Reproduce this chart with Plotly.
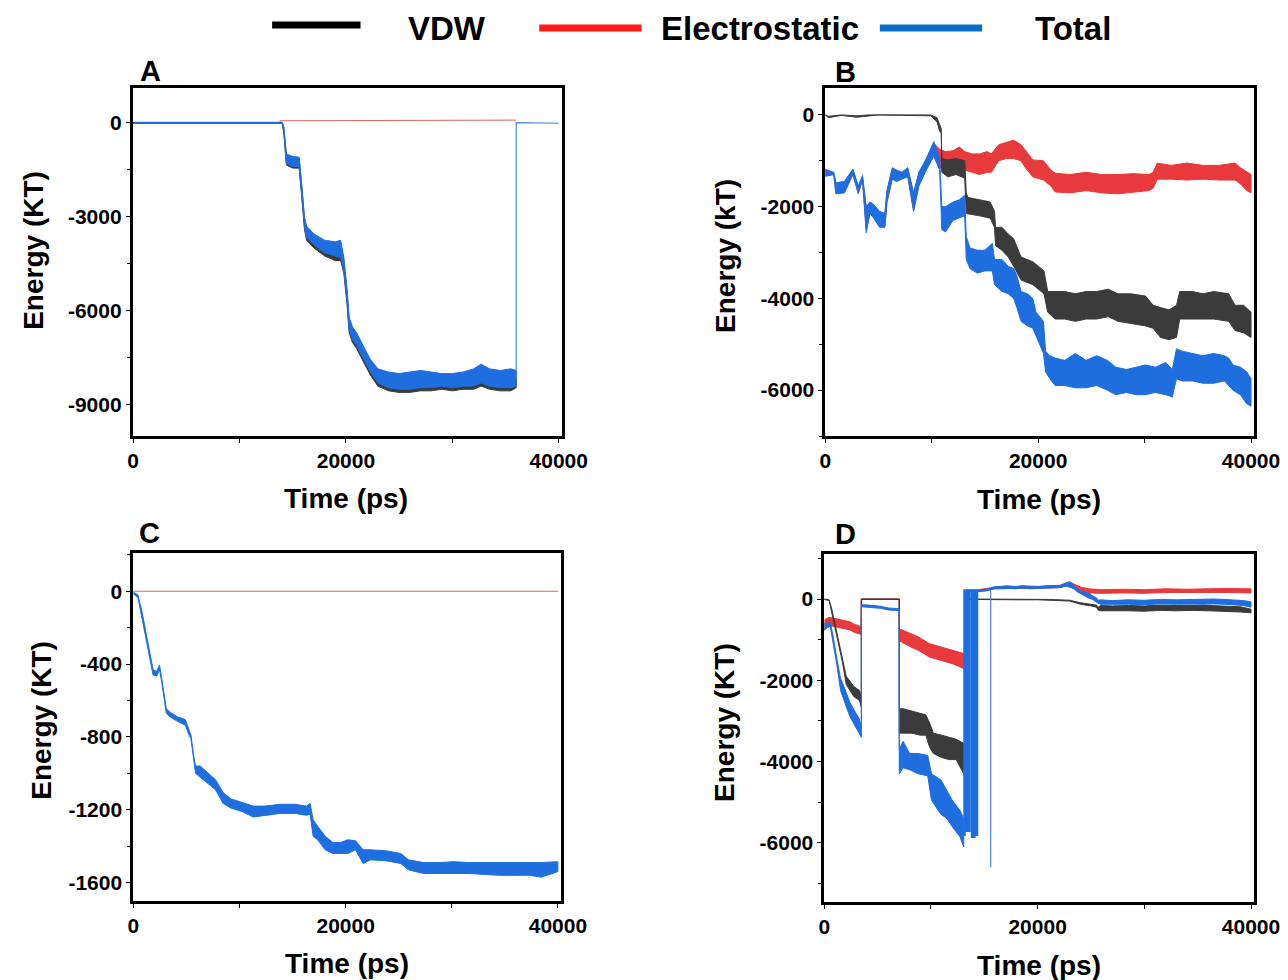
import plotly.graph_objects as go

# ---------------- data ----------------
# Panel A
A_t = [0, 14000, 14150, 14400, 15000, 15600, 15800, 16100, 16300, 17000,
       18000, 19000, 19500, 19800, 20100, 20300, 20600, 21000, 21600, 22300,
       23000, 24000, 25000, 26000, 27000, 28000, 29000, 30000, 31000, 32000,
       32700, 33500, 34500, 35500, 36000]
A_tot_hi = [10, 10, -100, -1000, -1080, -1100, -1800, -3000, -3300, -3550,
            -3750, -3800, -3750, -4300, -5300, -6200, -6500, -6700, -7100, -7550,
            -7850, -7950, -8000, -7950, -7900, -7950, -8000, -8000, -7950, -7850,
            -7700, -7850, -7900, -7850, -7900]
A_tot_lo = [-20, -20, -250, -1300, -1400, -1400, -2100, -3300, -3650, -3900,
            -4150, -4250, -4300, -4700, -5700, -6600, -6900, -7100, -7500, -7950,
            -8300, -8450, -8500, -8500, -8450, -8450, -8400, -8450, -8400, -8400,
            -8300, -8400, -8450, -8450, -8400]
A_vdw_hi = [0, 0, -150, -1050, -1150, -1150, -1850, -3050, -3400, -3650,
            -3850, -3900, -3850, -4400, -5400, -6300, -6600, -6800, -7200, -7650,
            -7950, -8050, -8100, -8050, -8000, -8050, -8100, -8100, -8050, -7950,
            -7800, -7950, -8000, -7950, -8000]
A_vdw_lo = [-20, -20, -300, -1350, -1450, -1450, -2200, -3400, -3750, -4000,
            -4250, -4400, -4400, -4800, -5800, -6700, -7000, -7200, -7600, -8050,
            -8400, -8550, -8600, -8600, -8550, -8550, -8500, -8550, -8500, -8500,
            -8400, -8500, -8550, -8550, -8450]
A_tail_t = [36000, 36000, 40000]
A_tail = [-8150, 0, -20]
A_el_t = [0, 13800, 13800, 20000, 30000, 36000]
A_el = [0, 0, 60, 60, 70, 80]

# Panel B
B_t = [0, 800, 1000, 1800, 2600, 3100, 3500, 3850, 4200, 4550,
       5100, 5600, 5800, 6300, 6700, 7200, 7750, 8300, 8800, 9500,
       10200, 10750, 10950, 11300, 12000, 12600, 13100, 13250, 13600, 14300,
       15000, 15700, 15900, 16600, 17200, 17700, 18000, 18400, 19000, 19500,
       19800, 20500, 20700, 21100, 21600, 22500, 23500, 24500, 25500, 26500,
       27300, 28300, 29200, 30100, 31000, 32000, 32600, 33000, 33500, 34500,
       35500, 36500, 37500, 37900, 38300, 39000, 39600, 40000]
B_tot_hi = [-1200, -1250, -1480, -1450, -1180, -1550, -1320, -2000, -1900, -1950,
            -2100, -2150, -1650, -1150, -1200, -1250, -1150, -1700, -1250, -950,
            -580, -950, -2000, -2000, -1900, -1850, -1750, -2650, -2900, -2950,
            -2950, -2800, -3150, -3150, -3300, -3350, -3500, -3850, -3900, -4000,
            -4300, -4500, -5150, -5250, -5300, -5350, -5200, -5350, -5250, -5350,
            -5500, -5550, -5500, -5450, -5500, -5400, -5550, -5100, -5150, -5200,
            -5250, -5200, -5250, -5300, -5450, -5500, -5600, -5750]
B_tot_lo = [-1340, -1300, -1720, -1700, -1300, -1720, -1420, -2570, -2150, -2250,
            -2450, -2450, -1900, -1400, -1450, -1400, -1350, -2100, -1550, -1200,
            -900, -1200, -2500, -2550, -2300, -2250, -2200, -3150, -3350, -3450,
            -3400, -3400, -3700, -3850, -3900, -4000, -4200, -4500, -4600, -4650,
            -4800, -5200, -5600, -5750, -5900, -5900, -5950, -5950, -5900, -6000,
            -6100, -6050, -6100, -6100, -6050, -6100, -6150, -5750, -5800, -5800,
            -5850, -5850, -5800, -5900, -6000, -6100, -6300, -6350]
B_el_t = [0, 800, 1000, 1800, 2600, 3100, 3500, 3850, 4200, 4550,
          5100, 5600, 5800, 6300, 6700, 7200, 7750, 8300, 8800, 9500,
          10200, 10750, 11300, 12000, 12600, 13100, 13800, 14500, 15200, 15600,
          16300, 17000, 17700, 18400, 18800, 19500, 20500, 21200, 21600, 23000,
          24500, 26000, 27500, 29000, 30400, 30800, 31200, 32500, 34000, 35500,
          37000, 38500, 39000, 39600, 40000]
B_el_hi = [-1180, -1260, -1500, -1470, -1200, -1570, -1340, -2020, -1920, -1970,
           -2120, -2170, -1670, -1170, -1220, -1270, -1170, -1720, -1270, -970,
           -620, -750, -800, -780, -700, -800, -850, -850, -800, -850,
           -650, -600, -550, -650, -780, -980, -1000, -1200, -1270, -1300,
           -1250, -1300, -1300, -1280, -1300, -1250, -1050, -1100, -1050, -1100,
           -1100, -1050, -1150, -1250, -1300]
B_el_lo = [-1320, -1290, -1700, -1680, -1290, -1700, -1400, -2500, -2130, -2230,
           -2430, -2430, -1880, -1380, -1430, -1380, -1330, -2080, -1530, -1180,
           -880, -1150, -1200, -1150, -1100, -1200, -1250, -1300, -1250, -1250,
           -1000, -950, -950, -1000, -1150, -1350, -1420, -1550, -1680, -1700,
           -1650, -1700, -1720, -1680, -1650, -1600, -1400, -1400, -1420, -1400,
           -1420, -1420, -1500, -1650, -1700]
B_vdw_t = [0, 300, 1500, 3000, 4000, 5000, 9900, 10500, 10750, 10900,
           10950, 11500, 12300, 13100, 13250, 13400, 14500, 15500, 15900, 16000,
           16600, 17200, 17700, 18400, 19500, 20550, 20900, 21600, 22500, 23500,
           24500, 25500, 26600, 27500, 28700, 30100, 30800, 31500, 32300, 33000,
           33300, 34500, 35500, 36500, 37900, 38500, 39300, 40000]
B_vdw_hi = [0, -30, 0, -20, 0, 0, 0, -60, -200, -300,
            -950, -980, -950, -1000, -1700, -1800, -1850, -1900, -2100, -2450,
            -2450, -2600, -2700, -3100, -3200, -3400, -3850, -3850, -3850, -3900,
            -3850, -3850, -3800, -3900, -3900, -3950, -4150, -4200, -4250, -4150,
            -3850, -3850, -3900, -3850, -3900, -4150, -4150, -4300]
B_vdw_lo = [0, -60, -10, -50, -20, 0, -20, -150, -350, -400,
            -1250, -1350, -1300, -1380, -2150, -2150, -2200, -2250, -2450, -2850,
            -2950, -3100, -3300, -3600, -3700, -3900, -4300, -4450, -4450, -4500,
            -4450, -4450, -4400, -4500, -4550, -4600, -4650, -4850, -4900, -4850,
            -4450, -4450, -4450, -4450, -4500, -4700, -4750, -4850]

# Panel C
C_t = [0, 430, 800, 1140, 1500, 1850, 2200, 2460, 2670, 2920,
       3100, 3460, 4170, 4880, 5170, 5420, 5670, 5850, 6300, 7000,
       7740, 8450, 9160, 10230, 11300, 12370, 13800, 15220, 16290, 16650,
       16930, 17360, 18070, 18790, 19500, 20200, 20930, 21640, 22350, 23780,
       25200, 25920, 27340, 28770, 30200, 31620, 33050, 34470, 35900, 37330,
       38400, 40000]
C_tot_hi = [-5, -20, -110, -220, -330, -430, -440, -405, -480, -570,
            -645, -665, -690, -705, -745, -790, -900, -960, -960, -995,
            -1035, -1105, -1140, -1160, -1180, -1180, -1170, -1170, -1180, -1165,
            -1255, -1290, -1345, -1380, -1380, -1365, -1370, -1420, -1420, -1425,
            -1440, -1475, -1490, -1490, -1485, -1490, -1490, -1490, -1490, -1490,
            -1490, -1485]
C_tot_lo = [-15, -35, -150, -250, -360, -460, -465, -430, -500, -590,
            -670, -690, -715, -735, -780, -810, -920, -1000, -1020, -1055,
            -1090, -1165, -1190, -1210, -1240, -1230, -1220, -1220, -1230, -1225,
            -1345, -1365, -1420, -1440, -1440, -1440, -1420, -1495, -1475, -1480,
            -1495, -1530, -1550, -1550, -1550, -1550, -1555, -1560, -1560, -1560,
            -1570, -1540]
C_el_t = [0, 40000]
C_el = [0, 0]

# Panel D
D_tot_t = [0, 280, 570, 820, 1170, 1530, 2060, 2420, 2950, 3300,
           3480, 3480, 4200, 5300, 6000, 6700, 7030, 7030, 7390, 8000,
           8800, 9700, 10050, 10940, 11500, 12000, 12720, 13070]
D_tot_hi = [-600, -600, -580, -900, -1450, -1950, -2300, -2550, -2800, -2950,
            -3200, -140, -150, -180, -220, -230, -240, -3700, -3500, -3800,
            -3800, -3850, -4300, -4450, -4700, -4950, -5200, -5400]
D_tot_lo = [-770, -700, -680, -1000, -1600, -2250, -2650, -2900, -3150, -3310,
            -3400, -190, -200, -230, -270, -280, -290, -4300, -4150, -4200,
            -4300, -4350, -4950, -5300, -5400, -5600, -5850, -6100]
D_zig_t = [13070, 13150, 13150, 13380, 13380, 13600, 13600, 13850, 13850, 14080,
           14080, 14250, 14250, 14320, 14320]
D_zig = [-5800, -5800, 210, 210, -5700, -5700, 210, 210, -5850, -5850,
         210, 210, -5800, -5800, 210]
D_tot2_t = [14320, 14600, 15200, 15900, 16500, 17200, 17900, 18600, 19300, 20000,
            20700, 21400, 22100, 22700, 23000, 23400, 23700, 24100, 24400, 24800,
            25150, 25500, 25700, 25900, 27000, 28500, 30000, 31500, 33000, 34500,
            35500, 36500, 37500, 38500, 39300, 40000]
D_tot2_hi = [210, 230, 240, 300, 310, 320, 300, 330, 300, 300,
             310, 330, 330, 400, 420, 340, 260, 190, 170, 140,
             80, 30, -30, -20, -40, -20, -30, -10, -20, -10,
             -20, 0, -10, -20, -40, -70]
D_tot2_lo = [180, 180, 200, 250, 260, 260, 250, 270, 250, 260,
             260, 270, 280, 320, 300, 250, 180, 110, 80, 20,
             -10, -80, -110, -130, -140, -130, -140, -120, -130, -120,
             -130, -120, -130, -140, -160, -200]
D_spike_t = [15600, 15600]
D_spike = [210, -6600]
D_el_t = [0, 460, 1000, 1700, 2400, 2800, 3130, 3450, 3480, 7030,
          7030, 7200, 8100, 8800, 9880, 10940, 12000, 13070, 13430, 13430,
          14140, 15000, 16000, 17000, 18000, 19000, 20000, 21000, 22000, 22700,
          23000, 23700, 24100, 24800, 26000, 28000, 30000, 32000, 34000, 36000,
          38000, 40000]
D_el_hi = [-520, -450, -480, -520, -560, -620, -650, -680, 0, 0,
           -770, -750, -850, -930, -1100, -1180, -1260, -1340, -1400, 220,
           220, 250, 300, 320, 310, 320, 310, 330, 330, 400,
           420, 330, 290, 250, 230, 240, 230, 250, 240, 250,
           260, 250]
D_el_lo = [-770, -650, -690, -720, -760, -820, -850, -870, -10, -10,
           -1020, -1050, -1180, -1260, -1430, -1510, -1590, -1710, -1750, 180,
           180, 200, 250, 260, 260, 260, 260, 270, 280, 320,
           300, 250, 200, 150, 140, 150, 140, 160, 150, 160,
           160, 150]
D_vdw_t = [0, 460, 710, 1170, 1700, 2060, 2770, 3300, 3480, 3480,
           7030, 7030, 7400, 8200, 9000, 9520, 9880, 10230, 11000, 11700,
           12360, 13070, 13430, 13430, 14140, 16000, 18000, 20000, 21000, 22000,
           23000, 24000, 25000, 25500, 25700, 25900, 27000, 28500, 30000, 31500,
           33000, 34500, 36000, 37500, 39000, 40000]
D_vdw_hi = [0, -20, -250, -800, -1450, -1900, -2150, -2250, -2400, 0,
            0, -2700, -2700, -2750, -2800, -2850, -3050, -3300, -3350, -3400,
            -3450, -3550, -3750, 0, 0, 0, -10, -10, -10, -20,
            -30, -90, -130, -150, -200, -160, -170, -160, -170, -150,
            -160, -150, -160, -170, -190, -250]
D_vdw_lo = [-10, -40, -300, -900, -1550, -2100, -2400, -2500, -2660, -10,
            -10, -3300, -3300, -3300, -3350, -3350, -3650, -3800, -3900, -3950,
            -3950, -4300, -4420, -10, -10, -10, -20, -20, -20, -40,
            -50, -130, -170, -200, -280, -290, -300, -290, -300, -280,
            -290, -280, -290, -300, -320, -340]

X_TICKS = [0, 20000, 40000]
A_YTICKS = [0, -3000, -6000, -9000]
B_YTICKS = [0, -2000, -4000, -6000]
C_YTICKS = [0, -400, -800, -1200, -1600]
D_YTICKS = [0, -2000, -4000, -6000]
LEGEND_NAMES = ["VDW", "Electrostatic", "Total"]
PANEL_LABELS = ["A", "B", "C", "D"]
Y_TITLES = ["Energy (KT)", "Energy (kT)", "Energy (KT)", "Energy (KT)"]
X_TITLE = "Time (ps)"

# ---------------- style ----------------
W, H = 1288, 980          # target picture size (reference pixel frame)
FIG_W = 1311              # layout width (compensates horizontal squeeze seen)
FONT = "Liberation Sans, Arial, sans-serif"
C_VDW = "#3b3b3b"
C_EL = "#e8393c"
C_TOT = "#1f6ee0"
C_TOT_THIN = "#4a86d8"
C_EL_THIN = "#e06262"


def px(x):
    return x / W


def py(y):
    return 1 - y / H


fig = go.Figure()


def band(t, hi, lo, color, ax, lw=1.0):
    xs = list(t) + list(t)[::-1]
    ys = list(hi) + list(lo)[::-1]
    fig.add_trace(go.Scatter(x=xs, y=ys, mode="lines", fill="toself",
                             fillcolor=color, line=dict(color=color, width=lw),
                             xaxis="x" + ax, yaxis="y" + ax,
                             showlegend=False, hoverinfo="skip"))


def line(t, v, color, ax, lw=1.0):
    fig.add_trace(go.Scatter(x=t, y=v, mode="lines",
                             line=dict(color=color, width=lw),
                             xaxis="x" + ax, yaxis="y" + ax,
                             showlegend=False, hoverinfo="skip"))


# Panel A (axes "")
line(A_el_t, A_el, C_EL_THIN, "")
band(A_t, A_vdw_hi, A_vdw_lo, C_VDW, "")
band(A_t, A_tot_hi, A_tot_lo, C_TOT, "")
line(A_tail_t, A_tail, C_TOT_THIN, "", 1.2)
# Panel B
band(B_el_t, B_el_hi, B_el_lo, C_EL, "2")
band(B_vdw_t, B_vdw_hi, B_vdw_lo, C_VDW, "2")
band(B_t, B_tot_hi, B_tot_lo, C_TOT, "2")
# Panel C
line(C_el_t, C_el, C_EL_THIN, "3")
band(C_t, C_tot_hi, C_tot_lo, C_TOT, "3")
# Panel D
band(D_el_t, D_el_hi, D_el_lo, C_EL, "4")
band(D_vdw_t, D_vdw_hi, D_vdw_lo, C_VDW, "4")
band(D_tot_t, D_tot_hi, D_tot_lo, C_TOT, "4")
line(D_zig_t, D_zig, C_TOT, "4", 2.5)
band(D_tot2_t, D_tot2_hi, D_tot2_lo, C_TOT, "4")
line(D_spike_t, D_spike, C_TOT_THIN, "4", 1.2)

# ---------------- axes ----------------
panels = [
    # (suffix, x domain px, y domain px, x range, y range, y ticks, y minor)
    ("", (127.5, 560), (87.5, 436), [-50, 40310], [-9990, 1120], A_YTICKS, 1500),
    ("2", (825, 1257), (88, 436), [0, 40300], [-7000, 587], B_YTICKS, 1000),
    ("3", (128, 559), (553, 901), [-30, 40300], [-1701, 210], C_YTICKS, 200),
    ("4", (824, 1257), (554, 902), [0, 40300], [-7454, 1107], D_YTICKS, 1000),
]
tickfont = dict(family=FONT, size=21, color="black", weight="bold")
layout = {}
for suf, (x0, x1), (y0, y1), xr, yr, yt, ymn in panels:
    layout["xaxis" + suf] = dict(
        domain=[px(x0), px(x1)], range=xr, anchor="y" + suf,
        showline=True, linewidth=2.5, linecolor="black", mirror=True,
        showgrid=False, zeroline=False,
        tickvals=X_TICKS, ticktext=[str(v) for v in X_TICKS],
        ticks="outside", ticklen=4, tickwidth=1.2, tickcolor="black",
        minor=dict(dtick=10000, tick0=0, ticks="outside", ticklen=4,
                   tickwidth=1.2, tickcolor="black"),
        tickfont=tickfont)
    layout["yaxis" + suf] = dict(
        domain=[py(y1), py(y0)], range=yr, anchor="x" + suf,
        showline=True, linewidth=2.5, linecolor="black", mirror=True,
        showgrid=False, zeroline=False,
        tickvals=yt, ticktext=[str(v) for v in yt],
        ticks="outside", ticklen=4, tickwidth=1.2, tickcolor="black",
        minor=dict(dtick=ymn, tick0=0, ticks="outside", ticklen=3,
                   tickwidth=1.2, tickcolor="black"),
        tickfont=tickfont)

annotations = []


def ann(text, x, y, size, angle=0):
    annotations.append(dict(text=text, x=px(x), y=py(y), xref="paper",
                            yref="paper", showarrow=False, textangle=angle,
                            xanchor="center", yanchor="middle",
                            font=dict(family=FONT, size=size, color="black",
                                      weight="bold")))


# panel letters
for lab, (x, y) in zip(PANEL_LABELS, [(146, 71), (845, 72), (145, 533), (845, 534)]):
    ann(lab, x, y, 29)
# axis titles
for tt, (x, y) in zip(Y_TITLES, [(28, 250), (724, 256), (35, 720), (723, 722)]):
    ann(tt, x, y, 28, -90)
for (x, y) in [(342, 498), (1040, 499), (343, 963), (1040, 965)]:
    ann(X_TITLE, x, y, 28)

# legend (drawn in paper space)
shapes = []
leg_cols = ["#000000", "#ff1a1a", "#0a6cc4"]
leg_lines = [(268, 357, 25), (537, 640, 28), (880, 983, 28)]
leg_text = [(444, 28), (759, 28), (1075, 28)]
for col, (lx0, lx1, ly), name, (tx, ty) in zip(leg_cols, leg_lines, LEGEND_NAMES, leg_text):
    shapes.append(dict(type="line", xref="paper", yref="paper",
                       x0=px(lx0), x1=px(lx1), y0=py(ly), y1=py(ly),
                       line=dict(color=col, width=7)))
    ann(name, tx, ty, 33)

fig.update_layout(width=FIG_W, height=H, autosize=False,
                  margin=dict(l=0, r=0, t=0, b=0),
                  paper_bgcolor="white", plot_bgcolor="white",
                  showlegend=False, annotations=annotations, shapes=shapes,
                  **layout)

fig.write_html("out.html",
               config={"displayModeBar": False, "responsive": False},
               post_script="document.body.style.margin='0';"
                           "document.body.style.padding='0';"
                           "document.body.style.overflow='hidden';"
                           "document.documentElement.style.overflow='hidden';")
